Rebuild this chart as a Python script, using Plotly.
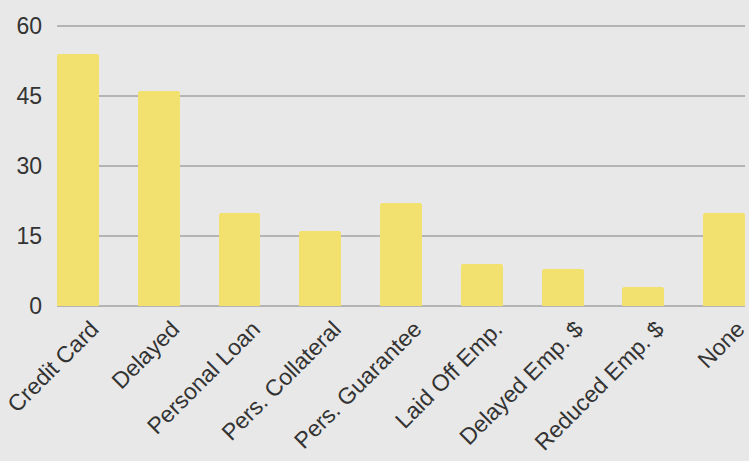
import plotly.graph_objects as go

categories = ["Credit Card", "Delayed", "Personal Loan", "Pers. Collateral", "Pers. Guarantee",
              "Laid Off Emp.", "Delayed Emp. $", "Reduced Emp. $", "None"]
values = [54, 46, 20, 16, 22, 9, 8, 4, 20]
y_ticks = [0, 15, 30, 45, 60]

fig = go.Figure(go.Bar(
    x=list(range(len(categories))), y=values,
    width=0.52,
    marker=dict(color="#f2e16f", line=dict(width=0), cornerradius=3),
))

fig.update_layout(
    width=749, height=461,
    margin=dict(l=57, r=4, t=24, b=155),
    paper_bgcolor="#e8e8e8", plot_bgcolor="#e8e8e8",
    font=dict(family="Liberation Sans, Arial, sans-serif", size=23, color="#333333"),
    showlegend=False,
    bargap=0,
)
fig.update_xaxes(
    tickmode="array", tickvals=list(range(len(categories))), ticktext=categories,
    tickangle=-45, range=[-0.26, 8.26], showgrid=False, zeroline=False,
    showline=False, ticks="", tickfont=dict(size=23),
    ticklabeloverflow="allow", ticklabelshift=14, ticklabelstandoff=4, automargin=False,
)
fig.update_yaxes(
    tickmode="array", tickvals=y_ticks, range=[0, 60.4],
    showgrid=True, gridcolor="#b4b4b4", gridwidth=2,
    zeroline=True, zerolinecolor="#b4b4b4", zerolinewidth=2,
    ticks="", ticklabelstandoff=14, tickfont=dict(size=23), automargin=False,
)

fig.write_html("out.html", config={"displayModeBar": False},
               post_script="document.body.style.margin='0';document.body.style.overflow='hidden';")
